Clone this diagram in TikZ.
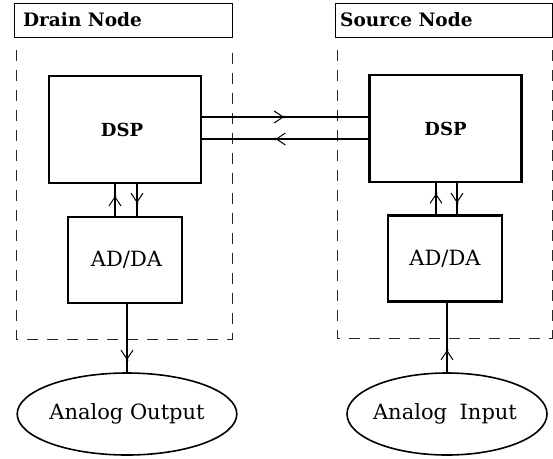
\documentclass[tikz,border=0pt]{standalone}
\usepackage{fontspec}
\setmainfont{DejaVu Serif}
\usetikzlibrary{shapes.geometric,arrows.meta,decorations.markings,calc}
\begin{document}
\begin{tikzpicture}[x=1pt,y=-1pt,
  titlebox/.style={draw, line width=1pt, inner sep=0pt, outer sep=0pt, minimum width=218pt, minimum height=34pt},
  titletext/.style={anchor=west, inner sep=0pt, font=\fontsize{18.5}{22}\selectfont\bfseries},
  block/.style={draw, line width=2.3pt, inner sep=0pt, outer sep=0pt},
  dspbox/.style={block, minimum width=152pt, minimum height=107pt, font=\fontsize{18}{21}\selectfont\bfseries},
  adbox/.style={block, minimum width=114pt, minimum height=86pt, font=\fontsize{21}{24}\selectfont},
  ell/.style={draw, ellipse, line width=1.6pt, inner sep=0pt, outer sep=0pt, minimum width=200pt, minimum height=82pt, font=\fontsize{21}{24}\selectfont},
  frame/.style={draw, line width=1pt, dash pattern=on 11pt off 9pt, color=black!85},
  conn/.style={line width=1.1pt},
  midarrow/.style={postaction={decorate}, decoration={markings, mark=at position #1 with {\arrow{Straight Barb[length=9pt,width=12pt,line width=1pt]}\fill (0pt,0pt) circle (1.5pt);}}}
]
\useasboundingbox (0,0) rectangle (553,458);

% frames
\draw[frame] (16,50) -- (16,339) -- (232,339) -- (232,50);
\draw[frame] (337,50) -- (337,338) -- (552,338) -- (552,50);

% titles
\node[titlebox] (tL) at (123,20) {};
\node[titlebox, minimum width=217pt] (tR) at (443.5,20) {};
\node[titletext] (tLt) at ($(tL.west)+(9,0)$) {Drain Node};
\node[titletext] (tRt) at ($(tR.west)+(5,0)$) {Source Node};

% blocks
\node[dspbox] (dspL) at (125,129.5) {\hspace*{-6pt}DSP};
\node[dspbox] (dspR) at (445.5,128.5) {DSP};
\node[adbox] (adL) at (125,260) {\hspace*{3pt}AD/DA};
\node[adbox] (adR) at (445,258.5) {AD/DA};

\node[ell] (eL) at (127,414) {Analog Output};
\node[ell] (eR) at (447,414) {\hspace*{-4pt}Analog\hspace{0.6em}Input};

% DSP <-> DSP
\draw[conn, midarrow=83pt] ($(dspL.east)+(0,-12.5)$) -- ($(dspR.west)+(0,-11.5)$);
\draw[conn, midarrow=94pt] ($(dspR.west)+(0,10.5)$) -- ($(dspL.east)+(0,9.5)$);

% DSP <-> AD/DA
\draw[conn, midarrow=21pt] ($(adL.north)+(-10,0)$) -- ($(dspL.south)+(-10,0)$);
\draw[conn, midarrow=20pt] ($(dspL.south)+(12,0)$) -- ($(adL.north)+(12,0)$);
\draw[conn, midarrow=22pt] ($(adR.north)+(-9,0)$) -- ($(dspR.south)+(-9.5,0)$);
\draw[conn, midarrow=21pt] ($(dspR.south)+(11.5,0)$) -- ($(adR.north)+(12,0)$);

% AD/DA <-> analog
\draw[conn, midarrow=57pt] (adL.south -| eL.north) -- (eL.north);
\draw[conn, midarrow=23pt] (eR.north) -- (adR.south -| eR.north);
\end{tikzpicture}
\end{document}
